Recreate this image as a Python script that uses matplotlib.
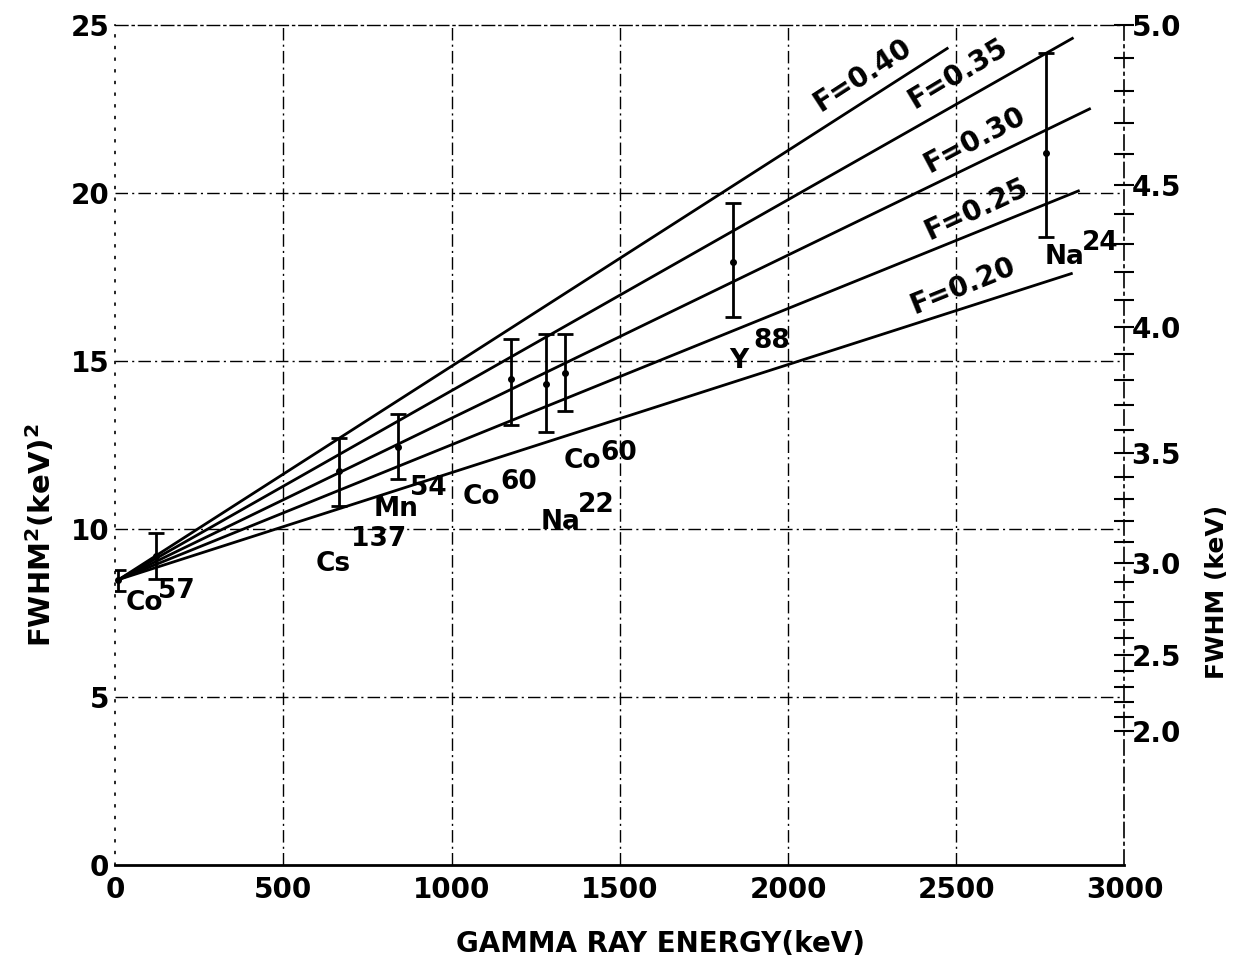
import matplotlib
matplotlib.use("Agg")
import matplotlib.pyplot as plt
import numpy as np

plt.rcParams['font.family'] = ['DejaVu Sans']
plt.rcParams['font.weight'] = 'bold'
plt.rcParams['axes.labelweight'] = 'bold'

# measured points: gamma energy (keV), FWHM^2 (keV^2), error bar ends
energy = [10, 122, 665, 840, 1178, 1280, 1338, 1838, 2768]
fwhm2 = [8.47, 9.2, 11.73, 12.45, 14.46, 14.3, 14.63, 17.95, 21.2]
err_lo = [8.15, 8.51, 10.68, 11.49, 13.1, 12.9, 13.5, 16.3, 18.7]
err_hi = [8.78, 9.88, 12.7, 13.42, 15.65, 15.8, 15.8, 19.7, 24.17]

# source labels: element, mass number
elements = ['Co', 'Cs', 'Mn', 'Co', 'Na', 'Co', 'Y', 'Na']
masses = ['57', '137', '54', '60', '22', '60', '88', '24']

# Fano factor lines (start point and end points)
fano = ['0.40', '0.35', '0.30', '0.25', '0.20']
line_x0, line_y0 = 12, 8.5
line_x1 = [2473, 2845, 2896, 2863, 2842]
line_y1 = [24.3, 24.6, 22.5, 20.06, 17.6]

# right axis FWHM ticks (keV)
fwhm_major = [2.0, 2.5, 3.0, 3.5, 4.0, 4.5, 5.0]
fwhm_minor = np.round(np.arange(2.0, 5.01, 0.1), 1)

fig = plt.figure(figsize=(12.33, 9.59), dpi=100)
ax = fig.add_axes([0.0933, 0.098, 0.8187, 0.876])

grid_ls = (0, (9, 3, 1.5, 3))
for xv in [500, 1000, 1500, 2000, 2500]:
    ax.axvline(xv, color='k', lw=1.0, ls=grid_ls, zorder=1)
for yv in [5, 10, 15, 20]:
    ax.axhline(yv, color='k', lw=1.0, ls=grid_ls, zorder=1)

for i in range(len(fano)):
    ax.plot([line_x0, line_x1[i]], [line_y0, line_y1[i]], color='k', lw=2.0, zorder=3)

yerr = [np.array(fwhm2) - np.array(err_lo), np.array(err_hi) - np.array(fwhm2)]
ax.errorbar(energy, fwhm2, yerr=yerr, fmt='o', ms=4, color='k', ecolor='k',
            elinewidth=2, capsize=6, capthick=2, zorder=4)

# F labels
f_pos = [(2098, 22.4), (2375, 22.5), (2420, 20.6), (2420, 18.6), (2375, 16.4)]
f_rot = [33, 31, 28, 25, 22]
for i in range(len(fano)):
    ax.text(f_pos[i][0], f_pos[i][1], 'F=' + fano[i], fontsize=20, rotation=f_rot[i],
            rotation_mode='anchor', ha='left', va='baseline')

# source labels
el_pos = [(30, 7.6), (595, 8.75), (768, 10.4), (1033, 10.75), (1265, 10.0),
          (1333, 11.8), (1824, 14.8), (2762, 17.9)]
ms_pos = [(128, 7.95), (700, 9.5), (878, 11.0), (1146, 11.2), (1375, 10.5),
          (1443, 12.05), (1896, 15.4), (2872, 18.3)]
for i in range(len(elements)):
    ax.text(el_pos[i][0], el_pos[i][1], elements[i], fontsize=19, ha='left', va='baseline')
    ax.text(ms_pos[i][0], ms_pos[i][1], masses[i], fontsize=19, ha='left', va='baseline')

ax.set_xlim(0, 3000)
ax.set_ylim(0, 25)
ax.set_xticks([0, 500, 1000, 1500, 2000, 2500, 3000])
ax.set_yticks([0, 5, 10, 15, 20, 25])
ax.tick_params(axis='both', length=0, labelsize=20)
ax.tick_params(axis='x', pad=8)
ax.tick_params(axis='y', pad=4)

ax.spines['bottom'].set_linewidth(2)
ax.spines['left'].set_linestyle((0, (1, 6)))
ax.spines['left'].set_linewidth(1.2)
ax.spines['top'].set_linestyle(grid_ls)
ax.spines['top'].set_linewidth(1.0)
ax.spines['right'].set_visible(False)

sec = ax.secondary_yaxis('right', functions=(lambda y: np.sqrt(np.clip(y, 0, None)), np.square))
sec.set_yticks(fwhm_major)
sec.set_yticklabels(['%.1f' % v for v in fwhm_major])
sec.set_yticks(fwhm_minor, minor=True)
sec.tick_params(which='both', direction='inout', length=14, width=1.5, labelsize=20, pad=-2)
sec.spines['right'].set_linestyle(grid_ls)
sec.spines['right'].set_linewidth(1.2)
sec.set_ylabel('FWHM (keV)', fontsize=18)
sec.yaxis.set_label_coords(1.08, 0.325, transform=ax.transAxes)

ax.set_xlabel('GAMMA RAY ENERGY(keV)', fontsize=20)
ax.xaxis.set_label_coords(0.54, -0.077)
ax.set_ylabel(r'FWHM$^{\mathbf{2}}$(keV)$^{\mathbf{2}}$', fontsize=21)
ax.yaxis.set_label_coords(-0.057, 0.393)

fig.savefig('out.png', dpi=100)
